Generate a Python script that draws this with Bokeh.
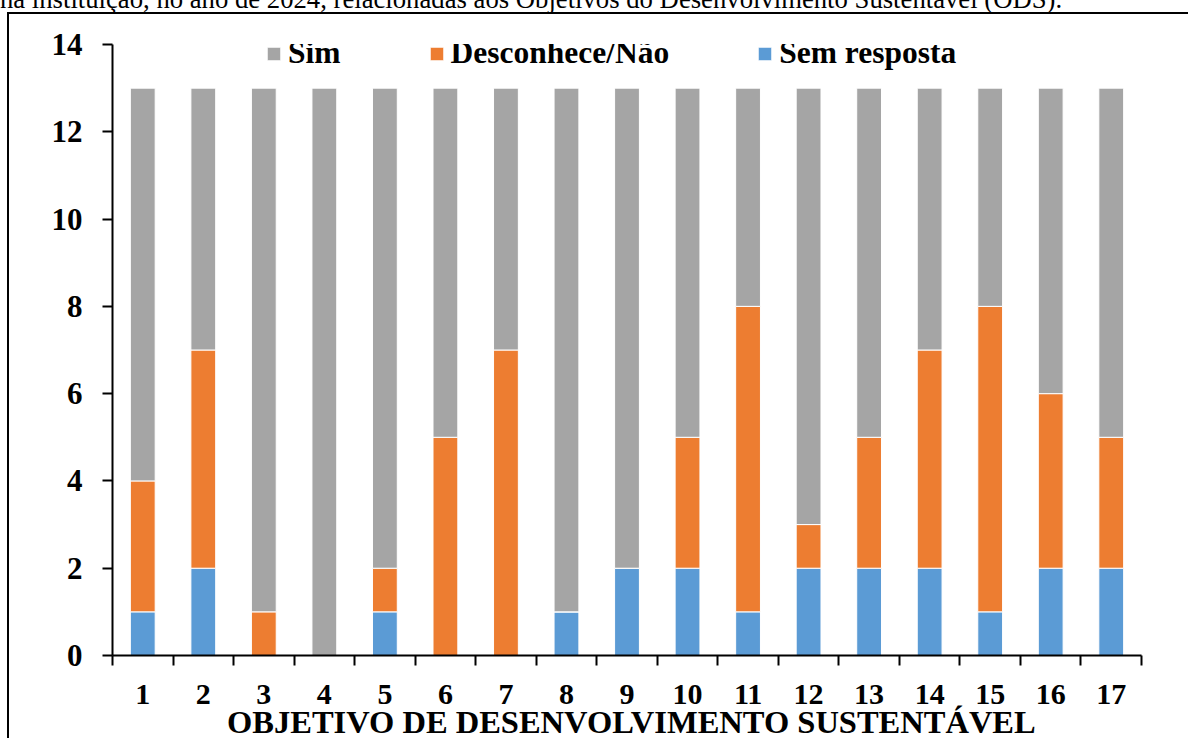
from bokeh.plotting import figure
from bokeh.layouts import column
from bokeh.models import (ColumnDataSource, Range1d, FixedTicker, Legend,
                          LegendItem, Div)
from bokeh.embed import file_html
from bokeh.resources import INLINE

# ---- data ----
categories = ["1", "2", "3", "4", "5", "6", "7", "8", "9", "10",
              "11", "12", "13", "14", "15", "16", "17"]
sem_resposta = [1, 2, 0, 0, 1, 0, 0, 1, 2, 2, 1, 2, 2, 2, 1, 2, 2]
desconhece = [3, 5, 1, 0, 1, 5, 7, 0, 0, 3, 7, 1, 3, 5, 7, 4, 3]
sim = [9, 6, 12, 13, 11, 8, 6, 12, 11, 8, 5, 10, 8, 6, 5, 7, 8]
y_ticks = [0, 2, 4, 6, 8, 10, 12, 14]
series_labels = ["Sim", "Desconhece/Não", "Sem resposta"]
caption = ("na instituição, no ano de 2024, relacionadas aos Objetivos do "
           "Desenvolvimento Sustentável (ODS).")
x_title = "OBJETIVO DE DESENVOLVIMENTO SUSTENTÁVEL"

GRAY, ORANGE, BLUE = "#A5A5A5", "#ED7D31", "#5B9BD5"
FONT = "Liberation Serif"

xpos = list(range(1, len(categories) + 1))
src = ColumnDataSource(dict(x=xpos, sem=sem_resposta, desc=desconhece, sim=sim))

W, H = 1188, 738
p = figure(width=W, height=H, output_backend="svg", toolbar_location=None,
           x_range=Range1d(0.5, len(categories) + 0.5), y_range=Range1d(0, 14),
           min_border_left=112, min_border_right=W - 1141,
           min_border_top=44, min_border_bottom=H - 655)
p.styles = {"position": "absolute", "top": "0px", "left": "0px"}
p.outline_line_color = None
p.xgrid.grid_line_color = None
p.ygrid.grid_line_color = None
p.background_fill_color = "white"
p.border_fill_color = "white"

rs = p.vbar_stack(["sem", "desc", "sim"], x="x", width=0.41, source=src,
                  fill_color=[BLUE, ORANGE, GRAY], line_color="white",
                  line_width=1)

# x axis: labels at centres, tick marks at category boundaries
xt = FixedTicker(ticks=xpos, minor_ticks=[v - 0.5 for v in xpos] + [xpos[-1] + 0.5])
p.xaxis.ticker = xt
p.xaxis.major_label_overrides = {v: c for v, c in zip(xpos, categories)}
p.xaxis.major_tick_out = 0
p.xaxis.major_tick_in = 0
p.xaxis.major_tick_line_color = None
p.xaxis.minor_tick_out = 10
p.xaxis.minor_tick_in = 0
p.xaxis.minor_tick_line_width = 2
p.xaxis.minor_tick_line_color = "black"
p.xaxis.major_label_standoff = 19
p.xaxis.major_label_text_font = FONT
p.xaxis.major_label_text_font_style = "bold"
p.xaxis.major_label_text_font_size = "30px"
p.xaxis.major_label_text_color = "black"

p.yaxis.ticker = FixedTicker(ticks=y_ticks)
p.yaxis.major_tick_out = 10
p.yaxis.major_tick_in = 0
p.yaxis.minor_tick_line_color = None
p.yaxis.major_label_standoff = 20
p.yaxis.major_label_text_font = FONT
p.yaxis.major_label_text_font_style = "bold"
p.yaxis.major_label_text_font_size = "31px"
p.yaxis.major_label_text_color = "black"

for ax in (p.xaxis, p.yaxis):
    ax.axis_line_width = 2
    ax.axis_line_color = "black"
    ax.major_tick_line_width = 2

legend = Legend(items=[LegendItem(label=series_labels[0], renderers=[rs[2]]),
                       LegendItem(label=series_labels[1], renderers=[rs[1]]),
                       LegendItem(label=series_labels[2], renderers=[rs[0]])],
                orientation="horizontal", location=(153, 584))
legend.glyph_width = 17
legend.glyph_height = 17
legend.label_standoff = 6
legend.spacing = 87
legend.padding = 0
legend.margin = 0
legend.border_line_color = None
legend.background_fill_alpha = 0
legend.label_text_font = FONT
legend.label_text_font_style = "bold"
legend.label_text_font_size = "31.5px"
legend.label_text_color = "black"
p.add_layout(legend)

# x-axis title, placed under the tick labels
title_div = Div(text=x_title, width=801, height=30,
                styles={"position": "absolute", "left": "227px", "top": "707px",
                        "font-family": FONT, "font-weight": "bold",
                        "font-size": "32.5px", "line-height": "30px",
                        "text-align": "center", "white-space": "nowrap",
                        "color": "black", "margin": "0px", "padding": "0px"})

# caption above the chart box (cut at the top of the page, as in the reference)
cap_div = Div(text=caption, width=1188, height=28,
              styles={"position": "absolute", "left": "0px", "top": "-14px",
                      "font-family": FONT, "font-size": "26.7px",
                      "line-height": "27px", "white-space": "nowrap",
                      "color": "black", "margin": "0px", "padding": "0px"})

# frame around the chart (left and top edges visible in the window)
box_div = Div(text="", width=1181, height=726,
              styles={"position": "absolute", "left": "7px", "top": "12px",
                      "box-sizing": "border-box",
                      "border-left": "2px solid black",
                      "border-top": "2px solid black",
                      "background": "transparent",
                      "pointer-events": "none", "margin": "0px"})

layout = column(p, title_div, cap_div, box_div, width=W, height=H,
                styles={"position": "absolute", "top": "0px", "left": "0px"})

open("out.html", "w").write(file_html(layout, INLINE))
